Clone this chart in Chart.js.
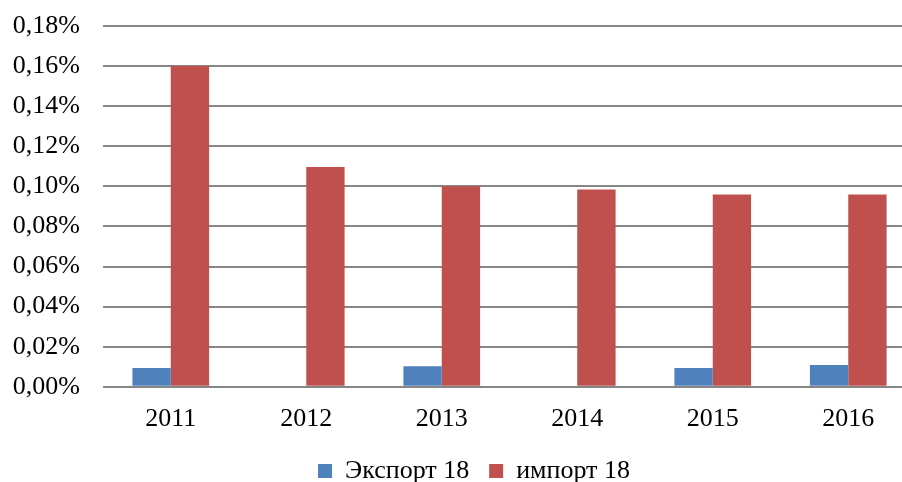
<!DOCTYPE html>
<html>
<head>
<meta charset="utf-8">
<script src="https://cdn.jsdelivr.net/npm/chart.js@4.4.1/dist/chart.umd.min.js"></script>
<style>
  html, body { margin: 0; padding: 0; background: #fff; overflow: hidden; }
  #wrap { width: 902px; height: 482px; overflow: hidden; position: relative; }
  canvas { position: absolute; left: 0; top: 0; }
</style>
</head>
<body>
<div id="wrap"><canvas id="c" width="948" height="494"></canvas></div>
<script>
const categories = ["2011", "2012", "2013", "2014", "2015", "2016"];
const exportValues = [0.0094, 0, 0.0102, 0, 0.0094, 0.0109];
const importValues = [0.160, 0.1097, 0.100, 0.0984, 0.0959, 0.0959];
const seriesNames = ["Экспорт 18", "импорт 18"];
const yTickLabels = ["0,00%", "0,02%", "0,04%", "0,06%", "0,08%", "0,10%", "0,12%", "0,14%", "0,16%", "0,18%"];

const FONT = "'Liberation Serif', 'Times New Roman', serif";

const shiftLegend = {
  id: 'shiftLegend',
  afterLayout(chart) {
    if (chart.legend) { chart.legend.left += 10; chart.legend.right += 10; }
  }
};

new Chart(document.getElementById('c'), {
  type: 'bar',
  data: {
    labels: categories,
    datasets: [
      { label: seriesNames[0], data: exportValues, backgroundColor: '#4F81BD', borderWidth: 0 },
      { label: seriesNames[1], data: importValues, backgroundColor: '#C0504D', borderWidth: 0 }
    ]
  },
  plugins: [shiftLegend],
  options: {
    responsive: false,
    animation: false,
    devicePixelRatio: 1,
    datasets: { bar: { categoryPercentage: 0.566, barPercentage: 1.0 } },
    layout: { padding: { left: 12, right: 32, top: 26, bottom: 0 } },
    plugins: {
      tooltip: { enabled: false },
      legend: {
        position: 'bottom',
        labels: {
          boxWidth: 14, boxHeight: 14,
          color: '#000',
          padding: 20,
          font: { family: FONT, size: 26 }
        }
      }
    },
    scales: {
      x: {
        grid: { display: false, drawTicks: false },
        border: { display: false },
        ticks: { color: '#000', font: { family: FONT, size: 26 }, padding: 17 },
        afterFit: (s) => { s.height -= 14; }
      },
      y: {
        min: 0, max: 0.18,
        ticks: {
          stepSize: 0.02,
          color: '#000',
          padding: 23,
          font: { family: FONT, size: 26 },
          callback: (v, i) => yTickLabels[i]
        },
        grid: { color: '#868686', lineWidth: 2, drawTicks: false },
        border: { display: false },
        afterFit: (s) => { s.width = 91; s.paddingTop = 0; s.paddingBottom = 0; }
      }
    }
  }
});
</script>
</body>
</html>
